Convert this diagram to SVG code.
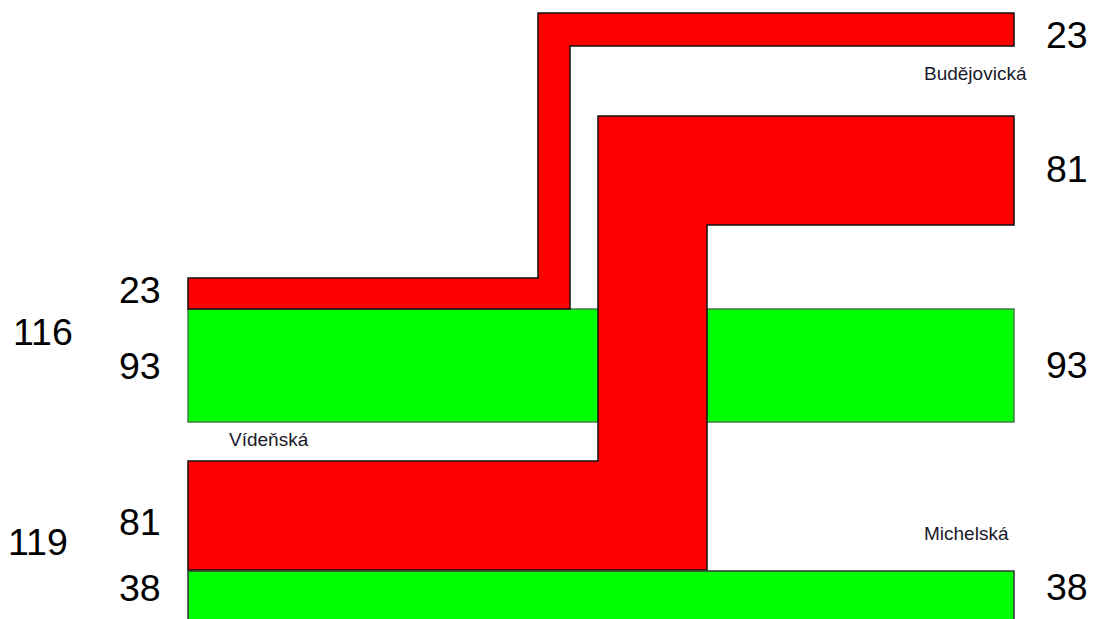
<svg xmlns="http://www.w3.org/2000/svg" width="1094" height="619" viewBox="0 0 1094 619">
<style>
.red{fill:#ff0000;stroke:#111;stroke-width:1.5;stroke-linejoin:miter}
.grn{fill:#00ff00;stroke:#4a7a4a;stroke-width:1.5}
.grn2{fill:#00ff00;stroke:#333;stroke-width:1.5}
.num{font-family:"Liberation Sans",Arial,sans-serif;font-size:37.5px;fill:#000}
.lbl{font-family:"Liberation Sans",Arial,sans-serif;font-size:19px;fill:#1a1a2a}
</style>
<rect width="1094" height="619" fill="#fff"/>
<g id="flows">
<rect id="flow-green-93" class="grn" x="188" y="309" width="826" height="113"/>
<path id="flow-red-23" class="red" d="M188,278 L538,278 L538,13 L1014,13 L1014,46 L570,46 L570,309 L188,309 Z"/>
<path id="flow-red-81" class="red" d="M188,461 L598,461 L598,116 L1014,116 L1014,225 L707,225 L707,570 L188,570 Z"/>
<rect id="flow-green-38" class="grn2" x="188" y="571" width="826" height="60"/>
</g>
<g id="node-budejovicka">
<text class="lbl" x="924" y="80">Budějovická</text>
<text class="num" x="1046" y="48">23</text>
<text class="num" x="1046" y="182">81</text>
</g>
<g id="node-videnska">
<text class="lbl" x="229" y="446">Vídeňská</text>
<text class="num" x="119" y="303">23</text>
<text class="num" x="119" y="379">93</text>
<text class="num" x="13" y="345">116</text>
</g>
<g id="node-michelska">
<text class="lbl" x="924" y="540">Michelská</text>
<text class="num" x="119" y="535">81</text>
<text class="num" x="119" y="601">38</text>
<text class="num" x="8" y="555">119</text>
</g>
<g id="node-right">
<text class="num" x="1046" y="378">93</text>
<text class="num" x="1046" y="600">38</text>
</g>
</svg>
